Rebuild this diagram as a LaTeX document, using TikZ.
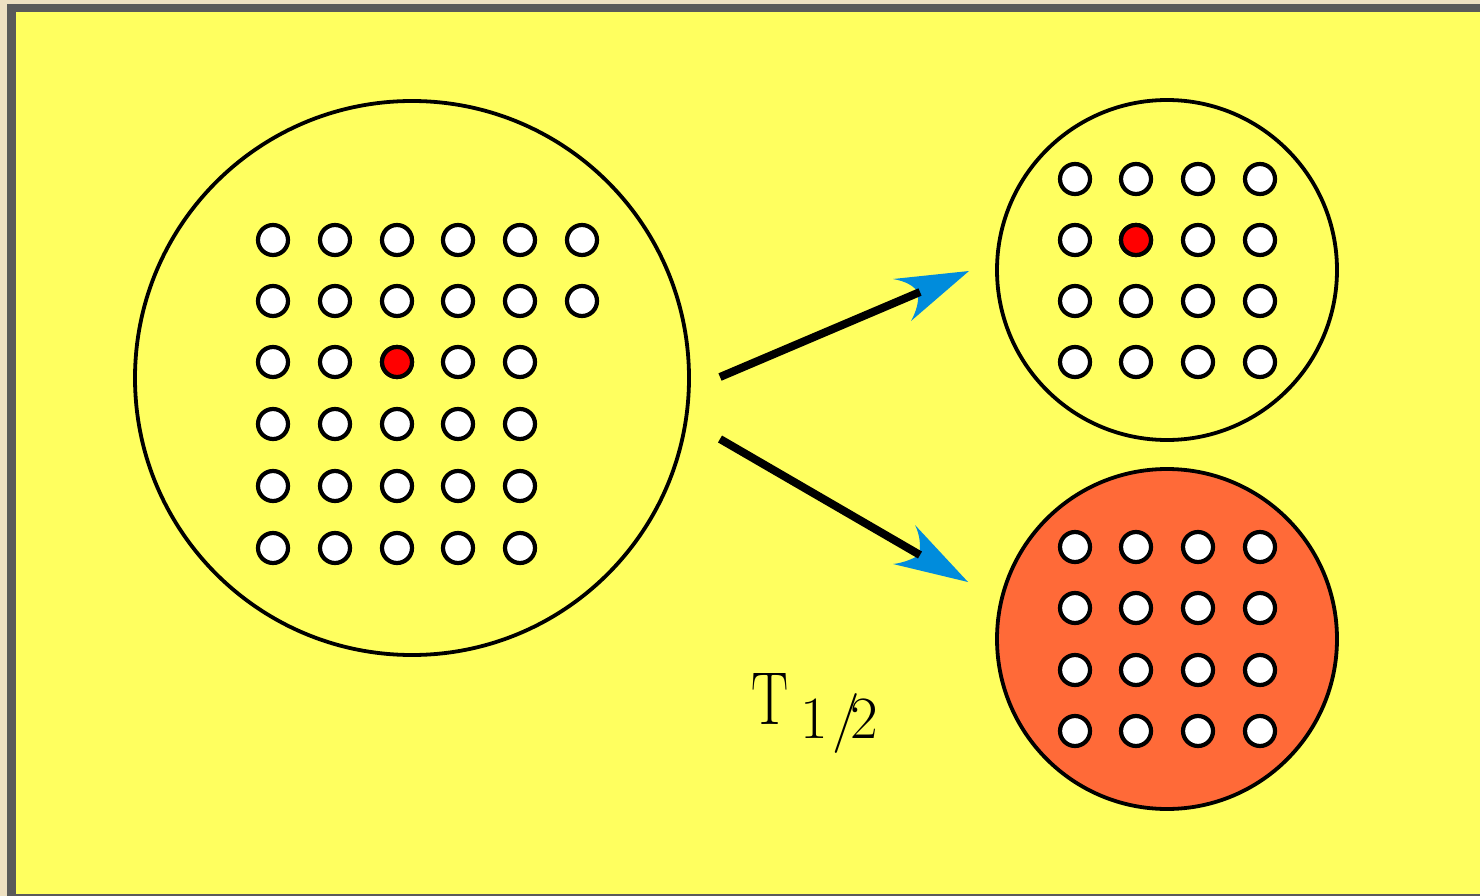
\documentclass[tikz,border=0pt]{standalone}
\usetikzlibrary{calc}
\definecolor{bgbeige}{RGB}{238,224,194}
\definecolor{framegray}{RGB}{90,90,90}
\definecolor{paneyellow}{RGB}{255,255,95}
\definecolor{decayorange}{RGB}{255,106,56}
\definecolor{arrowblue}{RGB}{0,140,220}
\definecolor{atomred}{RGB}{255,0,0}
\begin{document}
\begin{tikzpicture}[x=1pt,y=-1pt,
  ring/.style={circle, draw=black, line width=3.8pt, inner sep=0pt},
  atom/.style={circle, draw=black, line width=4.2pt, fill=white, minimum size=30pt, inner sep=0pt},
  hotatom/.style={atom, fill=atomred},
  shaft/.style={line width=8pt, black},
  tipfill/.style={fill=arrowblue}]
\useasboundingbox (0,0) rectangle (1480,896);
\fill[bgbeige] (0,0) rectangle (1480,896);
\fill[framegray] (7,4) rectangle (1480,896);
\fill[paneyellow] (16,12) rectangle (1480,894);

% big sample
\node[ring, minimum size=554pt] (big) at (412,378) {};
\foreach \c [count=\i] in {273,335,397,458,520,582}{
  \node[atom] (b-1-\i) at (\c,240) {};
  \node[atom] (b-2-\i) at (\c,301) {};
}
\foreach \r [count=\j from 3] in {362,424,486,548}{
  \foreach \c [count=\i] in {273,335,397,458,520}{
    \node[atom] (b-\j-\i) at (\c,\r) {};
  }
}
\node[hotatom] (bred) at (397,362) {};

% top right sample
\node[ring, minimum size=340pt] (top) at (1167,270) {};
\foreach \r [count=\j] in {179,240,301,362}{
  \foreach \c [count=\i] in {1075,1136,1198,1260}{
    \node[atom] (t-\j-\i) at (\c,\r) {};
  }
}
\node[hotatom] (tred) at (1136,240) {};

% bottom right sample
\node[ring, minimum size=340pt, fill=decayorange] (bot) at (1167,639) {};
\foreach \r [count=\j] in {547,608,670,731}{
  \foreach \c [count=\i] in {1075,1136,1198,1260}{
    \node[atom] (o-\j-\i) at (\c,\r) {};
  }
}

% arrows
\coordinate (a1s) at (720,377);
\coordinate (a1e) at (920,292);
\coordinate (a2s) at (720,439);
\coordinate (a2e) at (920,555);
\fill[tipfill] (969,271) -- (893,279) .. controls (905,281) and (915,286) .. (918,293)
   .. controls (919,302) and (916,312) .. (911,321) -- cycle;
\fill[tipfill] (968,582) -- (915,525) .. controls (920,535) and (921,546) .. (919,555)
   .. controls (911,560) and (902,563) .. (893,564) -- cycle;
\draw[shaft] (a1s) -- (a1e);
\draw[shaft] (a2s) -- (a2e);

% label
\node[anchor=base west, inner sep=0pt, font=\fontsize{75}{80}\selectfont] (tlabel) at (751,724) {\scalebox{0.74}[1]{T}};
\node[anchor=base west, inner sep=0pt, font=\fontsize{60}{64}\selectfont] (tsub) at (800,738) {1\kern5pt/\kern-10pt2};
\end{tikzpicture}
\end{document}
